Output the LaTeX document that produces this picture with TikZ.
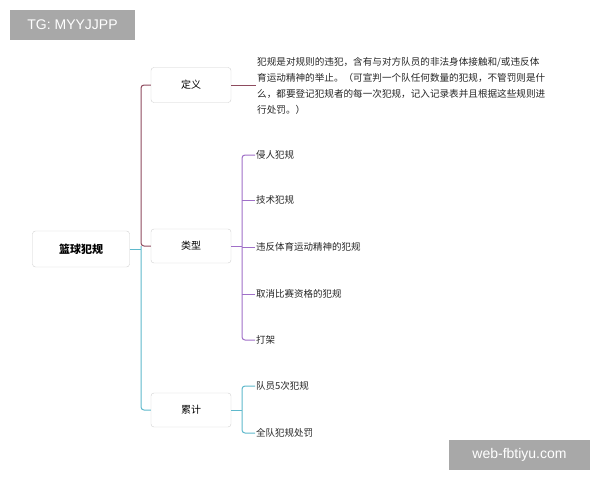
\documentclass[tikz,border=0pt]{standalone}
\usepackage{fontspec}
\setmainfont{Noto Sans CJK SC}
\newfontfamily\wmfont{Liberation Sans}
\definecolor{mar}{HTML}{8E4B5E}
\definecolor{pur}{HTML}{A070C8}
\definecolor{tea}{HTML}{5FB9CC}
\definecolor{wm}{HTML}{A8A8A8}
\begin{document}
\begin{tikzpicture}[x=1pt,y=-1pt,
  box/.style={draw=black!18,rounded corners=3pt,fill=white,minimum width=80pt,minimum height=35pt,font=\fontsize{10}{12}\selectfont},
  item/.style={anchor=west,inner sep=1pt,font=\fontsize{9.5}{12}\selectfont,text=black!85},
  ln/.style={line width=1pt,rounded corners=3pt},
  wmbox/.style={fill=wm,text=white,minimum height=30pt,font=\wmfont\fontsize{14}{16}\selectfont}]
\useasboundingbox (0,0) rectangle (600,480);
\fill[white] (0,0) rectangle (600,480);
\node[box,minimum width=97pt,minimum height=36pt,font=\bfseries\fontsize{11}{13}\selectfont] (root) at (81,249) {篮球犯规};
\node[box] (def) at (191,85) {定义};
\node[box,minimum height=34pt] (typ) at (191,246) {类型};
\node[box,minimum height=34pt] (acc) at (191,410) {累计};
\coordinate (tr) at (141,249);
\draw[ln,tea] (root.east) -- (tr);
\draw[ln,mar] (typ.west) -- (141,246) -- (141,85) -- (def.west);
\draw[ln,tea] (141,246) -- (141,410) -- (acc.west);
\node[item,align=left,font=\fontsize{9.6}{16}\selectfont] (txt) at (256,86) {犯规是对规则的违犯，含有与对方队员的非法身体接触和/或违反体\\育运动精神的举止。（可宣判一个队任何数量的犯规，不管罚则是什\\么，都要登记犯规者的每一次犯规，记入记录表并且根据这些规则进\\行处罚。）};
\draw[ln,mar] (def.east) -- (txt.west |- def.east);
\node[item] (t1) at (255,155) {侵人犯规};
\node[item] (t2) at (255,200) {技术犯规};
\node[item] (t3) at (255,247) {违反体育运动精神的犯规};
\node[item] (t4) at (255,294) {取消比赛资格的犯规};
\node[item] (t5) at (255,340) {打架};
\draw[ln,pur] (typ.east) -- (242,246);
\draw[ln,pur] (t1.west) -- (242,155) -- (242,340) -- (t5.west);
\draw[ln,pur] (242,200) -- (t2.west);
\draw[ln,pur] (242,247) -- (t3.west);
\draw[ln,pur] (242,294) -- (t4.west);
\node[item] (a1) at (255,386) {队员5次犯规};
\node[item] (a2) at (255,433) {全队犯规处罚};
\draw[ln,tea] (acc.east) -- (242,410);
\draw[ln,tea] (a1.west) -- (242,386) -- (242,433) -- (a2.west);
\node[wmbox,minimum width=125pt] (w1) at (72.5,25) {TG: MYYJJPP};
\node[wmbox,minimum width=141pt] (w2) at (519.5,455) {web-fbtiyu.com};
\end{tikzpicture}
\end{document}
